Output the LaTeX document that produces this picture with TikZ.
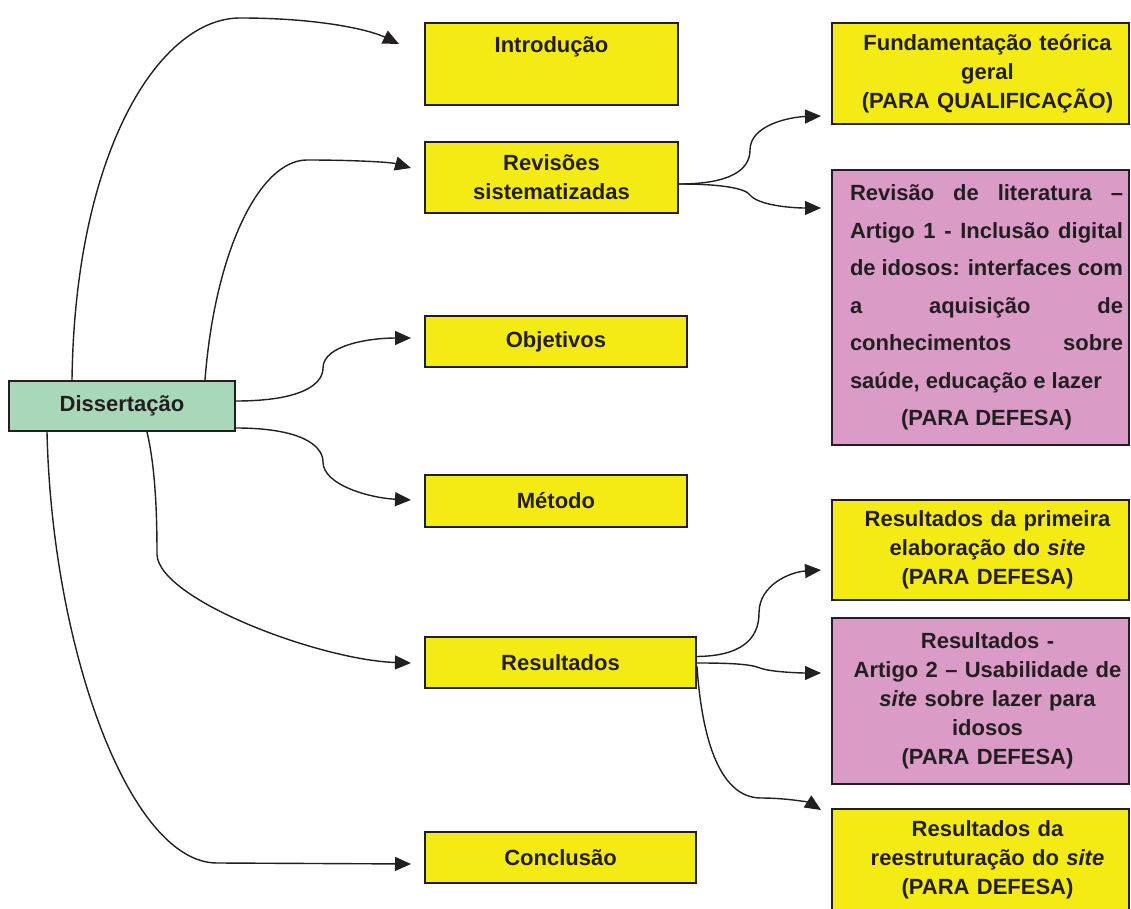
\documentclass[tikz,border=0pt]{standalone}
\usepackage{fontspec}
\setmainfont{Liberation Sans}
\usetikzlibrary{arrows.meta,calc}

\definecolor{boxyellow}{RGB}{245,235,20}
\definecolor{boxpink}{RGB}{219,155,199}
\definecolor{boxgreen}{RGB}{168,216,185}
\definecolor{inkgray}{RGB}{35,31,32}

% one justified line of the review box
\newcommand{\jline}[1]{\makebox[136.5pt][s]{#1}}

\begin{document}
\begin{tikzpicture}[
  x=0.5pt,
  y=-0.5pt,
  font={\fontsize{11}{14.5}\selectfont\bfseries},
  text=inkgray,
  box/.style={draw=inkgray, line width=1pt, inner sep=2pt, align=center},
  yellowbox/.style={box, fill=boxyellow},
  pinkbox/.style={box, fill=boxpink},
  rightcol/.style={minimum width=148.5pt, text width=144pt,
    execute at begin node={\advance\leftskip by 7pt}},
  littext/.style={font={\fontsize{11}{18.75}\selectfont\bfseries}},
  link/.style={draw=inkgray, line width=0.7pt, -{Triangle[length=8pt,width=7pt]}}
]

\useasboundingbox (0,0) rectangle (1131,909);

% Root
\node[box, fill=boxgreen, minimum width=113pt, minimum height=25pt] (diss) at (122,406) {Dissertação};

% Chapters
\node[yellowbox, minimum width=126.5pt, minimum height=41pt, text height=7.8pt, text depth=19.5pt] (intro) at (551.5,64) {Introdução};
\node[yellowbox, minimum width=126.5pt, minimum height=35.5pt] (rev) at (551.5,177.5) {Revisões\\sistematizadas};
\node[yellowbox, minimum width=131pt, minimum height=25.5pt] (obj) at (556,341.5) {Objetivos};
\node[yellowbox, minimum width=131pt, minimum height=26pt] (met) at (556,501) {Método};
\node[yellowbox, minimum width=135.5pt, minimum height=25.5pt] (res) at (560.5,662.5) {Resultados};
\node[yellowbox, minimum width=135.5pt, minimum height=25.5pt] (conc) at (560.5,857.5) {Conclusão};

% Parts
\node[yellowbox, rightcol, minimum height=50.5pt] (fund) at (980.5,73.5) {Fundamentação teórica\\geral\\(PARA QUALIFICAÇÃO)};
\node[pinkbox, littext, minimum width=148.5pt, minimum height=137.5pt] (revlit) at (980.5,307.5) {%
\hspace*{6pt}\jline{Revisão de literatura –}\\
\hspace*{6pt}\jline{Artigo 1 - Inclusão digital}\\
\hspace*{6pt}\jline{de idosos: interfaces com}\\
\hspace*{6pt}\jline{a aquisição de}\\
\hspace*{6pt}\jline{conhecimentos sobre}\\
\hspace*{6pt}\makebox[136.5pt][l]{saúde, educação e lazer}\\
\hspace*{6pt}(PARA DEFESA)};
\node[yellowbox, rightcol, minimum height=50pt] (resprim) at (980.5,550) {Resultados da primeira\\elaboração do \textit{site}\\(PARA DEFESA)};
\node[pinkbox, rightcol, minimum height=83pt] (resart) at (980.5,701) {Resultados -\\Artigo 2 – Usabilidade de\\\textit{site} sobre lazer para\\idosos\\(PARA DEFESA)};
\node[yellowbox, rightcol, minimum height=51.5pt] (reest) at (980.5,860) {Resultados da\\reestruturação do \textit{site}\\(PARA DEFESA)};

% Root to chapters
\draw[link] ($(diss.north west)+(64,0)$) .. controls (75,150) and (160,18) .. (240,18)
  .. controls (320,18) and (370,30) .. ($(intro.west)+(-25,-20)$);
\draw[link] ($(diss.north west)+(197,0)$) .. controls (215,250) and (260,160) .. (307,160)
  .. controls (350,160) and (390,162) .. ($(rev.west)+(-13,-9.5)$);
\draw[link] ($(diss.east)+(0,-5)$) .. controls (300,401) and (323,385) .. (323,368)
  .. controls (323,345) and (370,338) .. ($(obj.west)+(-13,-3.5)$);
\draw[link] ($(diss.east)+(0,22)$) .. controls (300,428) and (323,445) .. (323,462)
  .. controls (323,485) and (370,498) .. ($(met.west)+(-13,-1)$);
\draw[link] ($(diss.south west)+(139,0)$) .. controls (156,470) and (157,520) .. (157,555)
  .. controls (160,600) and (320,660) .. ($(res.west)+(-13,0.5)$);
\draw[link] ($(diss.south west)+(39,0)$) .. controls (52,650) and (130,863) .. (217,863)
  -- ($(conc.west)+(-13,6.5)$);

% Chapters to parts
\draw[link] ($(rev.east)+(0,6.5)$) .. controls (730,184) and (750,170) .. (750,150)
  .. controls (750,125) and (790,117) .. ($(fund.west)+(-10,42.5)$);
\draw[link] ($(rev.east)+(0,6.5)$) .. controls (720,184) and (745,188) .. (750,195)
  .. controls (758,205) and (790,208) .. ($(revlit.west)+(-10,-99.5)$);
\draw[link] ($(res.east)+(0,-6)$) .. controls (740,656) and (759,640) .. (759,613)
  .. controls (759,585) and (790,572) .. ($(resprim.west)+(-10,20)$);
\draw[link] ($(res.east)+(0,0.5)$) .. controls (730,663) and (750,664) .. (760,668)
  .. controls (770,672) and (800,673) .. ($(resart.west)+(-10,-28)$);
\draw[link] ($(res.east)+(0,4)$) .. controls (702,740) and (720,797) .. (760,798)
  .. controls (790,798) and (810,803) .. ($(reest.west)+(-10,-50)$);

\end{tikzpicture}
\end{document}
